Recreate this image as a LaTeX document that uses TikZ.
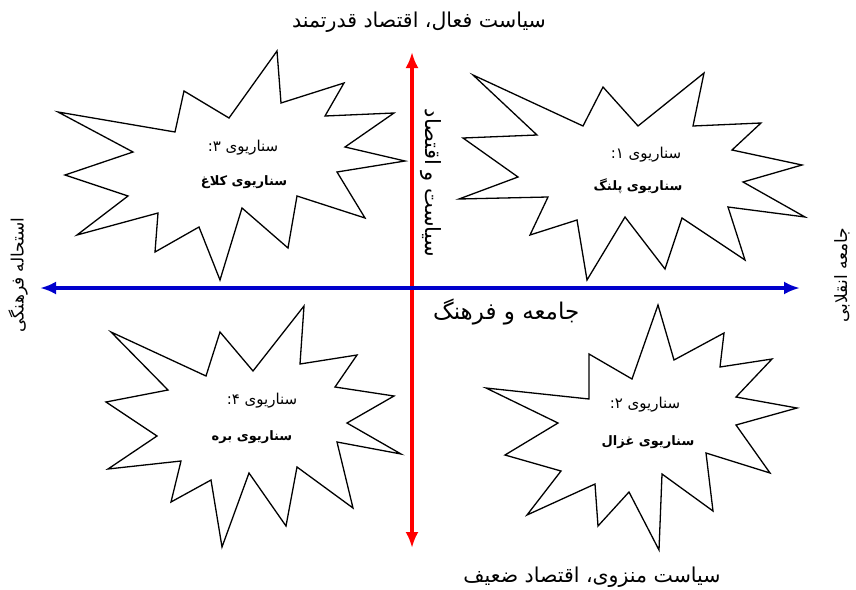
\documentclass[tikz,border=0pt]{standalone}
\usepackage{fontspec}
\usetikzlibrary{arrows.meta}
\TeXXeTstate=1
\newfontfamily\farsi[Script=Arabic]{DejaVu Sans}

\begin{document}
\begin{tikzpicture}[x=1pt, y=-1pt,
  burst/.style={draw=black, line width=1.3pt, line join=miter, fill=white},
  axisline/.style={line width=3.5pt, {Latex[length=16pt,width=13pt]}-{Latex[length=16pt,width=13pt]}},
  lbl/.style={font=\farsi\fontsize{20.5}{24}\selectfont, inner sep=0pt},
  sidelbl/.style={font=\farsi\fontsize{17}{20}\selectfont, inner sep=0pt, rotate=90},
  scen/.style={font=\farsi\fontsize{15}{18}\selectfont, inner sep=0pt},
  scenb/.style={font=\farsi\bfseries\fontsize{13}{16}\selectfont, inner sep=0pt}]
  \useasboundingbox (0,0) rectangle (856,589);
  % ends of the two axes
  \coordinate (N) at (412,52);
  \coordinate (S) at (412,548);
  \coordinate (W) at (40,288);
  \coordinate (E) at (800,288);
  % scenario 3 (top left)
  \draw[burst] (277,51) -- (281,103) -- (344,83) -- (325,116) -- (394,113)
    -- (345,147) -- (405,161) -- (337,172) -- (365,218) -- (297,196)
    -- (288,248) -- (242,208) -- (220,280) -- (199,227) -- (155,252)
    -- (158,213) -- (77,235) -- (128,196) -- (65,175) -- (133,152)
    -- (58,112) -- (175,132) -- (184,91) -- (229,118) -- cycle;
  % scenario 1 (top right)
  \draw[burst] (473,75) -- (583,126) -- (603,87) -- (638,126) -- (704,73)
    -- (693,126) -- (761,123) -- (732,150) -- (802,165) -- (743,182)
    -- (805,217) -- (728,207) -- (745,260) -- (682,218) -- (665,269)
    -- (625,217) -- (587,280) -- (577,220) -- (530,235) -- (548,197)
    -- (459,199) -- (518,177) -- (463,138) -- (537,135) -- cycle;
  % scenario 4 (bottom left)
  \draw[burst] (304,306) -- (300,364) -- (357,355) -- (335,387) -- (394,396)
    -- (347,423) -- (401,454) -- (337,442) -- (353,508) -- (297,467)
    -- (286,526) -- (249,473) -- (222,547) -- (211,480) -- (171,502)
    -- (181,461) -- (108,469) -- (157,436) -- (106,402) -- (168,390)
    -- (111,332) -- (206,376) -- (220,332) -- (253,371) -- cycle;
  % scenario 2 (bottom right)
  \draw[burst] (658,305) -- (674,360) -- (724,333) -- (720,367) -- (772,359)
    -- (736,397) -- (797,408) -- (736,425) -- (770,473) -- (706,453)
    -- (713,511) -- (662,474) -- (659,550) -- (629,492) -- (598,526)
    -- (595,484) -- (527,515) -- (561,471) -- (505,455) -- (558,423)
    -- (486,388) -- (589,399) -- (589,354) -- (632,379) -- cycle;
  % axes
  \draw[axisline, red] (S) -- (N);
  \draw[axisline, blue!80!black] (W) -- (E);
  % axis labels
  \node[lbl] (top) at (419,22) {\beginR سیاست فعال، اقتصاد قدرتمند\endR};
  \node[lbl] (bottom) at (592,577) {\beginR سیاست منزوی، اقتصاد ضعیف\endR};
  \node[lbl, anchor=west, font=\farsi\fontsize{23}{26}\selectfont] (soc) at (433,312) {\beginR جامعه و فرهنگ\endR};
  \node[lbl, rotate=-90, font=\farsi\fontsize{21}{24}\selectfont] (pol) at (431,183) {\beginR سیاست و اقتصاد\endR};
  \node[sidelbl] (left) at (18,275) {\beginR استحاله فرهنگی\endR};
  \node[sidelbl] (right) at (842,275) {\beginR جامعه انقلابی\endR};
  % scenario names
  \node[scen] (s3a) at (243,148) {\beginR سناریوی ۳:\endR};
  \node[scenb] (s3b) at (244,182) {\beginR سناریوی کلاغ\endR};
  \node[scen] (s1a) at (646,155) {\beginR سناریوی ۱:\endR};
  \node[scenb] (s1b) at (638,186) {\beginR سناریوی پلنگ\endR};
  \node[scen] (s4a) at (262,401) {\beginR سناریوی ۴:\endR};
  \node[scenb] (s4b) at (252,437) {\beginR سناریوی بره\endR};
  \node[scen] (s2a) at (645,405) {\beginR سناریوی ۲:\endR};
  \node[scenb] (s2b) at (648,442) {\beginR سناریوی غزال\endR};
\end{tikzpicture}
\end{document}
